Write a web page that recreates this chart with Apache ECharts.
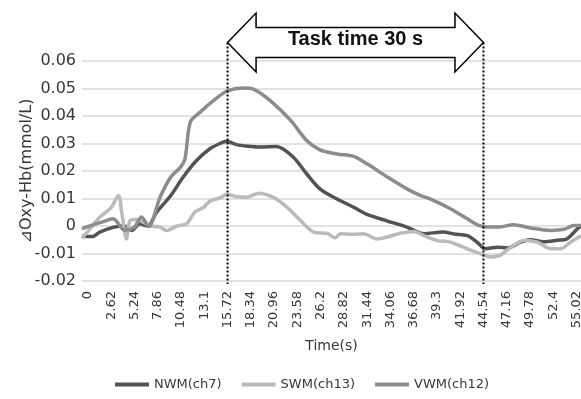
<!DOCTYPE html>
<html>
<head>
<meta charset="utf-8">
<script src="https://cdn.jsdelivr.net/npm/echarts@6/dist/echarts.min.js"></script>
<style>
  html, body { margin: 0; padding: 0; background: #ffffff; }
  #chart { width: 581px; height: 399px; }
</style>
</head>
<body>
<div id="chart"></div>
<script>
// Time labels along the x axis (seconds)
const timeTicks = [0, 2.62, 5.24, 7.86, 10.48, 13.1, 15.72, 18.34, 20.96, 23.58, 26.2,
  28.82, 31.44, 34.06, 36.68, 39.3, 41.92, 44.54, 47.16, 49.78, 52.4, 55.02];

// Task window (s)
const taskStart = 15.72;
const taskEnd = 44.54;

// NWM(ch7)
const nwmTime = [0, 1.2, 2.0, 3.5, 4.8, 5.6, 6.5, 7.4, 8.4, 10.0, 11.4, 12.9, 14.4, 15.6, 16.3,
  17.4, 18.7, 20.1, 21.9, 23.8, 25.3, 26.8, 28.5, 30.6, 32.1, 34.4, 36.6, 37.5, 38.5, 40.7,
  41.9, 43.4, 44.5, 45.4, 46.8, 47.9, 49.4, 50.5, 52.0, 53.5, 54.6, 55.8, 56.2];
const nwmValue = [-0.0037, -0.0038, -0.0022, -0.0005, 0.0, -0.0016, 0.0008, 0.0, 0.005, 0.0111,
  0.0178, 0.0238, 0.0281, 0.0301, 0.0308, 0.0296, 0.029, 0.0287, 0.0289, 0.025, 0.019, 0.0135,
  0.0102, 0.0068, 0.0042, 0.0018, -0.0004, -0.0018, -0.0028, -0.0022, -0.0029, -0.0035, -0.0059,
  -0.0083, -0.0077, -0.008, -0.0059, -0.005, -0.0057, -0.0052, -0.0047, -0.001, 0.0];

// SWM(ch13)
const swmTime = [0, 0.9, 2.0, 3.3, 4.1, 4.5, 5.0, 5.4, 6.1, 6.9, 7.7, 8.8, 9.5, 10.7, 11.8, 12.7,
  13.7, 14.4, 15.6, 16.3, 17.4, 18.6, 19.9, 21.6, 23.1, 24.6, 26.1, 27.6, 28.5, 29.1, 30.6, 31.7,
  33.2, 34.4, 35.9, 37.4, 38.5, 40.0, 41.5, 43.4, 44.9, 46.0, 47.1, 48.3, 49.8, 51.3, 52.8, 53.9,
  55.0, 56.2];
const swmValue = [-0.0045, -0.001, 0.0032, 0.0068, 0.0111, 0.0044, -0.0047, 0.002, 0.0024, 0.0014,
  0.0, -0.0004, -0.0016, 0.0, 0.0009, 0.005, 0.0068, 0.009, 0.0103, 0.0115, 0.0107, 0.0105, 0.0119,
  0.0103, 0.0068, 0.002, -0.0022, -0.0027, -0.0043, -0.0028, -0.003, -0.0028, -0.0047, -0.004,
  -0.0026, -0.002, -0.0035, -0.0053, -0.0059, -0.0083, -0.0101, -0.0113, -0.0107, -0.0077, -0.0053,
  -0.0059, -0.0083, -0.0083, -0.0059, -0.0035];

// VWM(ch12)
const vwmTime = [0, 1.2, 2.3, 3.5, 4.8, 5.9, 6.7, 7.5, 8.8, 10.0, 11.1, 11.6, 12.2, 13.3, 14.8,
  16.3, 18.2, 19.3, 21.2, 23.5, 25.3, 26.8, 28.7, 30.6, 32.1, 34.4, 36.6, 38.1, 39.2, 41.5, 43.4,
  44.7, 45.6, 46.9, 48.6, 50.5, 52.8, 54.3, 55.4, 56.2];
const vwmValue = [-0.001, 0.0004, 0.0015, 0.0026, -0.0015, -0.0004, 0.0033, -0.0002, 0.0105, 0.0178,
  0.0214, 0.0244, 0.0378, 0.0414, 0.0456, 0.049, 0.0502, 0.0498, 0.0456, 0.0384, 0.0311, 0.0277,
  0.0262, 0.0253, 0.0226, 0.0178, 0.0135, 0.0111, 0.0099, 0.0063, 0.0026, 0.0002, -0.0004, -0.0004,
  0.0005, -0.0007, -0.0016, -0.0012, 0.0002, 0.0002];

const pairs = (ts, vs) => ts.map((t, i) => [t, vs[i]]);

const FONT = 'DejaVu Sans';
const TEXT = '#383838';
const labelShift = 6; // rotated time labels sit slightly right of their tick

const chart = echarts.init(document.getElementById('chart'), null, { renderer: 'canvas' });

const lineSeries = (name, color, ts, vs) => ({
  name: name,
  type: 'line',
  data: pairs(ts, vs),
  symbol: 'none',
  smooth: 0.3,
  lineStyle: { color: color, width: 3.5 },
  itemStyle: { color: color }
});

chart.setOption({
  animation: false,
  backgroundColor: '#ffffff',
  grid: { left: 82, right: 0, top: 61, bottom: 118, containLabel: false, outerBoundsMode: 'none' },
  xAxis: {
    type: 'value',
    min: 0,
    max: 56.2,
    axisLine: { show: false, onZero: false },
    axisTick: { show: false },
    splitLine: { show: false },
    axisLabel: {
      customValues: timeTicks,
      rotate: 90,
      align: 'right',
      verticalAlign: 'top',
      lineHeight: 12,
      margin: 10,
      fontFamily: FONT,
      fontSize: 13,
      color: TEXT
    },
    name: 'Time(s)',
    nameLocation: 'middle',
    nameGap: 58,
    nameMoveOverlap: false,
    nameTextStyle: { fontFamily: FONT, fontSize: 14, color: TEXT }
  },
  yAxis: {
    type: 'value',
    min: -0.02,
    max: 0.06,
    interval: 0.01,
    axisLine: { show: false },
    axisTick: { show: false },
    splitLine: { lineStyle: { color: '#d9d9d9', width: 1.5 } },
    axisLabel: { margin: 6, fontFamily: FONT, fontSize: 16, color: TEXT },
    name: '⊿Oxy-Hb(mmol/L)',
    nameLocation: 'middle',
    nameRotate: 90,
    nameGap: 47,
    nameMoveOverlap: false,
    nameTextStyle: { fontFamily: FONT, fontSize: 16, color: TEXT }
  },
  legend: {
    left: 110,
    top: 373,
    icon: 'rect',
    itemWidth: 34,
    itemHeight: 4,
    itemGap: 20,
    textStyle: { fontFamily: FONT, fontSize: 13, color: TEXT },
    data: ['NWM(ch7)', 'SWM(ch13)', 'VWM(ch12)']
  },
  series: [
    lineSeries('NWM(ch7)', '#535353', nwmTime, nwmValue),
    lineSeries('SWM(ch13)', '#bababa', swmTime, swmValue),
    lineSeries('VWM(ch12)', '#8c8c8c', vwmTime, vwmValue)
  ]
});

// Task-period markers: dotted verticals and the double-headed arrow between them
const xL = chart.convertToPixel({ xAxisIndex: 0 }, taskStart) + labelShift;
const xR = chart.convertToPixel({ xAxisIndex: 0 }, taskEnd) + labelShift;
const yc = 42.5;        // arrow axis
const headLen = 28.5;   // arrow head length
const headHalf = 29.5;  // half height of the heads
const bodyHalf = 15;    // half height of the shaft
const yBottom = 284;

chart.setOption({
  graphic: [
    {
      type: 'line', z: 50,
      shape: { x1: xL, y1: yc, x2: xL, y2: yBottom },
      style: { stroke: '#000', lineWidth: 2, lineDash: [2, 2] }
    },
    {
      type: 'line', z: 50,
      shape: { x1: xR, y1: yc, x2: xR, y2: yBottom },
      style: { stroke: '#000', lineWidth: 2, lineDash: [2, 2] }
    },
    {
      type: 'polygon', z: 60,
      shape: {
        points: [
          [xL, yc], [xL + headLen, yc - headHalf], [xL + headLen, yc - bodyHalf],
          [xR - headLen, yc - bodyHalf], [xR - headLen, yc - headHalf], [xR, yc],
          [xR - headLen, yc + headHalf], [xR - headLen, yc + bodyHalf],
          [xL + headLen, yc + bodyHalf], [xL + headLen, yc + headHalf]
        ]
      },
      style: { fill: '#ffffff', stroke: '#000000', lineWidth: 1.5, lineJoin: 'miter' }
    },
    {
      type: 'text', z: 70,
      x: (xL + xR) / 2, y: 39.5,
      style: {
        text: 'Task time 30 s',
        font: 'bold 20px "Liberation Sans", Arial, sans-serif',
        fill: '#111111',
        align: 'center',
        verticalAlign: 'middle'
      }
    }
  ]
});
</script>
</body>
</html>
